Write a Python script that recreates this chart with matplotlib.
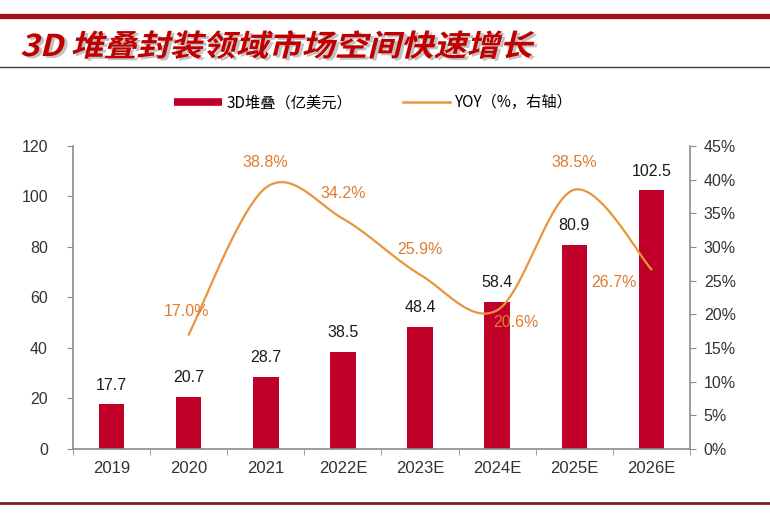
import numpy as np
import matplotlib; matplotlib.use('Agg')
import matplotlib.pyplot as plt
from matplotlib.lines import Line2D
from matplotlib.patches import PathPatch
from matplotlib.textpath import TextPath
from matplotlib.font_manager import FontProperties
from matplotlib.transforms import Affine2D

plt.rcParams['font.family'] = ['Liberation Sans', 'Noto Sans CJK SC', 'DejaVu Sans']

years = ['2019', '2020', '2021', '2022E', '2023E', '2024E', '2025E', '2026E']
xtick_labels = ['2019', '2020', '2021', '2022E', '2023E', '2024E', '2025E', '2026E']
market = [17.7, 20.7, 28.7, 38.5, 48.4, 58.4, 80.9, 102.5]
yoy_years = ['2020', '2021', '2022E', '2023E', '2024E', '2025E', '2026E']
yoy = [17.0, 38.8, 34.2, 25.9, 20.6, 38.5, 26.7]
left_ticks = [0, 20, 40, 60, 80, 100, 120]
right_ticks = [0, 5, 10, 15, 20, 25, 30, 35, 40, 45]
# label offsets in pixels for the YOY values
yoy_offsets = [(-2, 23), (0, 25), (0, 25), (0, 25), (19, -12), (0, 27), (-37, -13)]

RED = '#C00028'
ORANGE = '#E8953F'
ORANGE_TXT = '#E07B30'
GREY = '#8C8C8C'
TXT = '#333333'

def catmull_rom(xs, ys, n=40):
    xs = np.asarray(xs, float); ys = np.asarray(ys, float)
    px = np.concatenate([[xs[0]], xs, [xs[-1]]])
    py = np.concatenate([[ys[0]], ys, [ys[-1]]])
    outx, outy = [], []
    t = np.linspace(0, 1, n)
    for i in range(1, len(px) - 2):
        for arr, out in ((px, outx), (py, outy)):
            p0, p1, p2, p3 = arr[i-1], arr[i], arr[i+1], arr[i+2]
            out.extend(0.5 * ((2*p1) + (-p0 + p2)*t + (2*p0 - 5*p1 + 4*p2 - p3)*t**2
                              + (-p0 + 3*p1 - 3*p2 + p3)*t**3))
    return np.array(outx), np.array(outy)

fig = plt.figure(figsize=(7.7, 5.14), dpi=100)
ax = fig.add_axes([0.0948, 0.1265, 0.8012, 0.5895])
x = np.arange(len(years))
ax.bar(x, market, width=0.33, color=RED, zorder=2)
for xi, v in zip(x, market):
    ax.annotate(f'{v}', (xi, v), xytext=(0, 19), textcoords='offset pixels',
                ha='center', va='center', fontsize=11.5, color='#1a1a1a')
ax.set_xlim(-0.5, len(years) - 0.5)
ax.set_ylim(0, 120)
ax.set_yticks(left_ticks)
ax.set_xticks(x)
ax.set_xticklabels(xtick_labels)
ax.set_xticks(np.arange(-0.5, len(years)), minor=True)
ax.tick_params(axis='x', which='major', length=0, pad=9, labelsize=12, labelcolor=TXT)
ax.tick_params(axis='x', which='minor', length=4, color=GREY, direction='out')
ax.tick_params(axis='y', length=4, color=GREY, labelsize=11.5, labelcolor=TXT, pad=14)
for s in ['top', 'right']:
    ax.spines[s].set_visible(False)
for s in ['left', 'bottom']:
    ax.spines[s].set_color(GREY)
    ax.spines[s].set_linewidth(1.2)

ax2 = ax.twinx()
ax2.set_ylim(0, 45)
ax2.set_yticks(right_ticks)
ax2.set_yticklabels([f'{t}%' for t in right_ticks])
ax2.tick_params(axis='y', length=4, color=GREY, labelsize=11.5, labelcolor=TXT, pad=6)
for s in ['top', 'left', 'bottom']:
    ax2.spines[s].set_visible(False)
ax2.spines['right'].set_color(GREY)
ax2.spines['right'].set_linewidth(1.2)
yx = np.array([years.index(y) for y in yoy_years])
sx, sy = catmull_rom(yx, yoy)
ax2.plot(sx, sy, color=ORANGE, lw=1.6, zorder=3)
for xi, v, off in zip(yx, yoy, yoy_offsets):
    ax2.annotate(f'{v:.1f}%', (xi, v), xytext=off, textcoords='offset pixels',
                 ha='center', va='center', fontsize=11.5, color=ORANGE_TXT)

# legend
handles = [Line2D([], [], color=RED, lw=5.5, solid_capstyle='butt'),
           Line2D([], [], color=ORANGE, lw=1.8)]
fig.legend(handles, ['3D堆叠（亿美元）', 'YOY（%，右轴）'], loc='center',
           bbox_to_anchor=(0.485, 0.80), ncol=2, frameon=False, handlelength=3.1,
           columnspacing=3.3, handletextpad=0.3,
           prop={'family': ['Noto Sans CJK SC', 'DejaVu Sans'], 'size': 11})

# decorative rules
fig.add_artist(Line2D([0, 1], [1 - 16/514] * 2, transform=fig.transFigure, color='#A31515', lw=3.8))
fig.add_artist(Line2D([0, 1], [1 - 67/514] * 2, transform=fig.transFigure, color='#3a3a3a', lw=1.0))
fig.add_artist(Line2D([0, 1], [1 - 503/514] * 2, transform=fig.transFigure, color='#7A2020', lw=2.0))

# slanted bold title with shadow
fp = FontProperties(family='Noto Sans CJK SC', weight='bold')
tp = TextPath((0, 0), '3D 堆叠封装领域市场空间快速增长', size=30, prop=fp)
base = Affine2D().scale(1.1, 1.0).skew_deg(14, 0)
fig.add_artist(PathPatch(tp, transform=base + Affine2D().translate(23, 514 - 58),
                         facecolor='#9a9a9a', edgecolor='none', alpha=0.6))
fig.add_artist(PathPatch(tp, transform=base + Affine2D().translate(20, 514 - 56),
                         facecolor='#C00000', edgecolor='none'))

fig.savefig('out.png', dpi=100)
